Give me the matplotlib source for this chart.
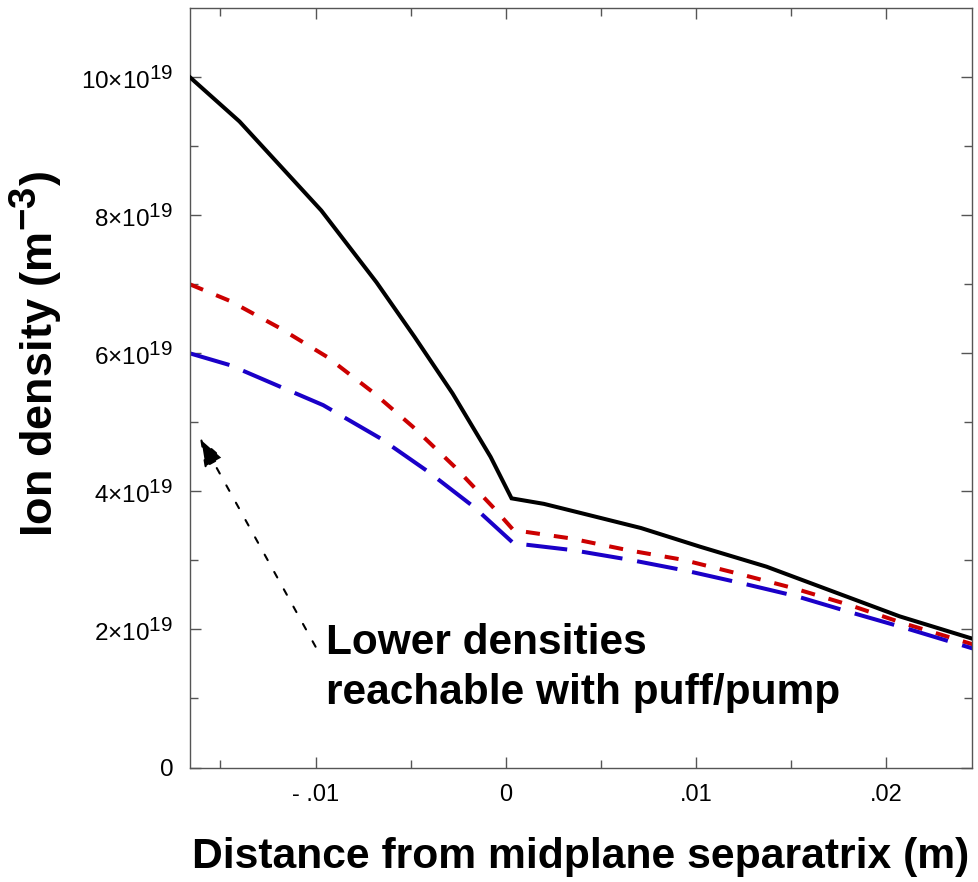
import numpy as np
import matplotlib
matplotlib.use('Agg')
from matplotlib import pyplot as plt
from matplotlib.ticker import FixedLocator, FixedFormatter
import matplotlib._mathtext as mathtext_internals

plt.rcParams['font.family'] = ['Liberation Sans', 'DejaVu Sans']
plt.rcParams['mathtext.fontset'] = 'custom'
plt.rcParams['mathtext.rm'] = 'Liberation Sans'
plt.rcParams['mathtext.bf'] = 'Liberation Sans:bold'
plt.rcParams['mathtext.default'] = 'regular'
# superscripts in the original are nearly full size
mathtext_internals.SHRINK_FACTOR = 0.85

# distance from midplane separatrix (m), ion density in units of 1e19 m^-3
x_black = [-0.0166, -0.0140, -0.0097, -0.0068, -0.0048, -0.0028, -0.0008, 0.0003,
           0.0020, 0.0039, 0.0071, 0.0102, 0.0137, 0.0172, 0.0207, 0.0246]
n_black = [10.0, 9.36, 8.07, 7.03, 6.24, 5.42, 4.50, 3.90,
           3.82, 3.69, 3.47, 3.20, 2.91, 2.55, 2.19, 1.86]

x_red = [-0.0166, -0.0145, -0.0119, -0.0094, -0.0070, -0.0049, -0.0027, -0.0007, 0.0004,
         0.0034, 0.0064, 0.0093, 0.0122, 0.0151, 0.0180, 0.0209, 0.0246]
n_red = [7.0, 6.76, 6.37, 5.95, 5.44, 4.94, 4.36, 3.78, 3.44,
         3.32, 3.15, 3.01, 2.81, 2.60, 2.36, 2.09, 1.78]

x_blue = [-0.0166, -0.0145, -0.0118, -0.0096, -0.0066, -0.0041, -0.0017, 0.0004,
          0.0035, 0.0065, 0.0095, 0.0124, 0.0153, 0.0181, 0.0210, 0.0246]
n_blue = [6.0, 5.83, 5.51, 5.25, 4.77, 4.29, 3.78, 3.25,
          3.15, 3.01, 2.85, 2.67, 2.48, 2.25, 2.02, 1.72]

x_ticks = [-0.01, 0.0, 0.01, 0.02]
x_ticklabels = ['- .01', '0', '.01', '.02']
x_minor = [-0.015, -0.005, 0.005, 0.015]
y_ticks = [0, 2, 4, 6, 8, 10]
y_ticklabels = ['0', r'$2{\times}10^{19}$', r'$4{\times}10^{19}$', r'$6{\times}10^{19}$',
                r'$8{\times}10^{19}$', r'$10{\times}10^{19}$']
y_minor = [1, 3, 5, 7, 9]

arrow_tip = (-0.01608, 4.78)
arrow_tail = (-0.0100, 1.75)
note_pos = (-0.00944, 0.92)
note_text = 'Lower densities\nreachable with puff/pump'

fig = plt.figure(figsize=(9.79, 8.82), dpi=100)
ax = fig.add_subplot(1, 1, 1)
fig.subplots_adjust(left=0.1941, right=0.9928, bottom=0.1298, top=0.9906)

lw = 2.9
ax.plot(x_black, n_black, color='black', lw=lw, solid_joinstyle='miter', zorder=3)
ax.plot(x_red, n_red, color='#CC0000', lw=lw, linestyle=(0, (3.5, 3.5)), zorder=2)
ax.plot(x_blue, n_blue, color='#1A00C8', lw=lw, linestyle=(0, (10.2, 3.7)), zorder=2)

ax.set_xlim(-0.0166, 0.0245)
ax.set_ylim(0, 11)

ax.xaxis.set_major_locator(FixedLocator(x_ticks))
ax.xaxis.set_major_formatter(FixedFormatter(x_ticklabels))
ax.xaxis.set_minor_locator(FixedLocator(x_minor))
ax.yaxis.set_major_locator(FixedLocator(y_ticks))
ax.yaxis.set_major_formatter(FixedFormatter(y_ticklabels))
ax.yaxis.set_minor_locator(FixedLocator(y_minor))

spine_col = '#555555'
for s in ax.spines.values():
    s.set_color(spine_col)
    s.set_linewidth(1.0)
ax.tick_params(which='both', direction='in', top=True, right=True, color=spine_col, width=1.0)
ax.tick_params(which='major', length=8, pad=12)
ax.tick_params(axis='x', which='major', labelsize=17)
ax.tick_params(axis='y', which='major', labelsize=17.5)
ax.tick_params(which='minor', length=5.5)

ax.set_xlabel('Distance from midplane separatrix (m)', fontsize=30.7, fontweight='bold', va='baseline')
ax.xaxis.set_label_coords(0.5, -0.1324)
ax.set_ylabel(r'Ion density (m$^{\mathbf{-3}}$)', fontsize=32.5, fontweight='bold', va='baseline')
ax.yaxis.set_label_coords(-0.1748, 0.5447)

ax.annotate('', xy=arrow_tip, xytext=arrow_tail,
            arrowprops=dict(arrowstyle='-|>,head_length=17.8,head_width=6.4', mutation_scale=1,
                            lw=1.5, linestyle=(0, (3, 6.5)), color='black',
                            shrinkA=0, shrinkB=0))
ax.text(note_pos[0], note_pos[1], note_text, fontsize=30.5, fontweight='bold',
        ha='left', va='baseline', linespacing=1.31)

fig.savefig('out.png', dpi=100)
